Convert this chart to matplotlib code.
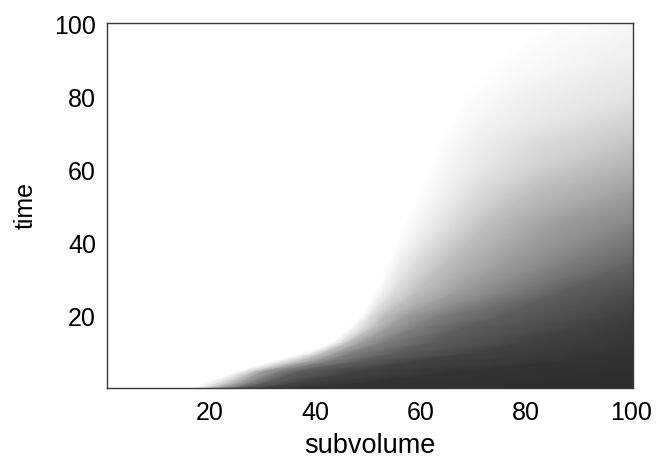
import numpy as np
import matplotlib
matplotlib.use("Agg")
import matplotlib.pyplot as plt
from matplotlib.colors import LinearSegmentedColormap

plt.rcParams['font.family'] = ['Liberation Sans', 'DejaVu Sans']

levels = [0.0, 0.07, 0.15, 0.30, 0.45, 0.60, 0.75, 0.88, 0.95]

# time samples (0.5 / 100.5 are the image edges)
time = [0.5, 2, 5, 8, 10, 13, 17, 20, 27, 35, 46, 55, 68, 80, 90, 100.5]

# subvolume where each grey level is reached, per time sample (None = not reached)
level_x = [
    [16.5, 18, 19, 20.5, 22, 24, 26, 30, 37],
    [19, 20.5, 22, 24, 26, 28, 31, 37, 50],
    [25, 26, 27, 28.5, 30, 33, 37, 48, 68],
    [32, 33.5, 35, 37.5, 40, 43, 49, 60, 90],
    [37.5, 39, 40, 41.5, 44, 47, 55, 70, 98],
    [43, 44, 45, 46.5, 49, 53, 62, 80, None],
    [46.5, 47.5, 49, 51, 54, 59, 68, 90, None],
    [48.5, 49.5, 50.5, 53, 57, 63, 75, 97, None],
    [51.5, 53, 55, 59.5, 67, 77, 87.5, None, None],
    [54, 56, 59, 65, 76, 88, None, None, None],
    [57, 61, 65.5, 73, 86, None, None, None, None],
    [60, 65, 70.5, 82, None, None, None, None, None],
    [63.5, 70, 80.5, None, None, None, None, None, None],
    [68, 79, None, None, None, None, None, None, None],
    [74, 95, None, None, None, None, None, None, None],
    [83, None, None, None, None, None, None, None, None],
]

# grey level at the right edge (subvolume 100), per time sample
right_edge = [0.98, 0.98, 0.97, 0.96, 0.955, 0.94, 0.92, 0.90, 0.83, 0.72,
              0.56, 0.44, 0.27, 0.14, 0.08, 0.04]

x_ticks = [20, 40, 60, 80, 100]
y_ticks = [20, 40, 60, 80, 100]

# build a curvilinear mesh that follows the grey-level contours
nrow = len(time)
ncol = len(levels) + 2
X = np.zeros((nrow, ncol))
Y = np.zeros((nrow, ncol))
C = np.zeros((nrow, ncol))
for r in range(nrow):
    Y[r, :] = time[r]
    X[r, 0] = 0.5
    C[r, 0] = 0.0
    for j, lv in enumerate(levels):
        xv = level_x[r][j]
        if xv is None:
            X[r, j + 1] = 100.5
            C[r, j + 1] = right_edge[r]
        else:
            X[r, j + 1] = xv
            C[r, j + 1] = lv
    X[r, -1] = 100.5
    C[r, -1] = right_edge[r]

cmap = LinearSegmentedColormap.from_list('greys_dark', ['#ffffff', '#292929'])

fig = plt.figure(figsize=(6.57, 4.62), dpi=100)
ax = fig.add_axes([0.163, 0.160, 0.801, 0.790])

ax.pcolormesh(X, Y, C, cmap=cmap, vmin=0, vmax=1, shading='gouraud')

ax.set_xlim(0.5, 100.5)
ax.set_ylim(0.5, 100.5)
ax.set_xticks(x_ticks)
ax.set_yticks(y_ticks)
ax.tick_params(length=0, labelsize=18, colors='black')
ax.tick_params(axis='x', pad=9)
ax.tick_params(axis='y', pad=8)

for sp in ax.spines.values():
    sp.set_color('#3a3a3a')
    sp.set_linewidth(1.0)

ax.set_xlabel('subvolume', fontsize=19.5, labelpad=6)
ax.set_ylabel('time', fontsize=18, labelpad=12)

fig.savefig('out.png', dpi=100)
